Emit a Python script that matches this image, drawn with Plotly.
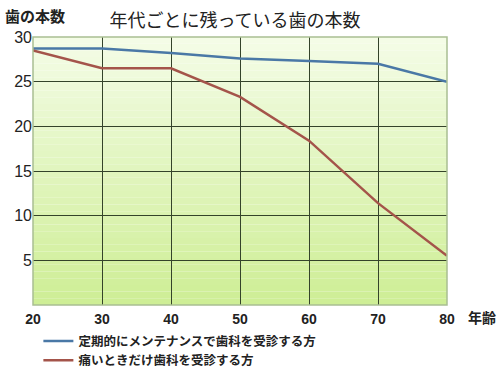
import plotly.graph_objects as go

ages = [20, 30, 40, 50, 60, 70, 80]
regular = [28.7, 28.7, 28.2, 27.6, 27.3, 27.0, 25.0]
pain_only = [28.5, 26.5, 26.5, 23.3, 18.4, 11.4, 5.5]
name_regular = "定期的にメンテナンスで歯科を受診する方"
name_pain = "痛いときだけ歯科を受診する方"
y_ticks = [5, 10, 15, 20, 25, 30]
x_ticks = [20, 30, 40, 50, 60, 70, 80]

fig = go.Figure()
fig.add_trace(go.Scatter(x=ages, y=regular, mode="lines", name=name_regular,
                         line=dict(color="#4a78a6", width=2.5)))
fig.add_trace(go.Scatter(x=ages, y=pain_only, mode="lines", name=name_pain,
                         line=dict(color="#a4544a", width=2.5)))

# gradient background bands
shapes = []
n = 40
top = (244, 252, 230)
bot = (206, 238, 150)
for i in range(n):
    t = i / (n - 1)
    c = tuple(round(top[k] + (bot[k] - top[k]) * t) for k in range(3))
    shapes.append(dict(type="rect", xref="paper", yref="paper", x0=0, x1=1,
                       y0=1 - (i + 1) / n, y1=1 - i / n, layer="below",
                       line=dict(width=0), fillcolor="rgb(%d,%d,%d)" % c))
shapes.append(dict(type="rect", xref="paper", yref="paper", x0=0, x1=1, y0=0, y1=1,
                   line=dict(color="#a9bf93", width=1.5), layer="above"))
fig.update_layout(shapes=shapes)

fig.update_layout(
    width=500, height=375,
    margin=dict(l=33, r=53, t=37, b=70, autoexpand=False),
    paper_bgcolor="white", plot_bgcolor="rgba(0,0,0,0)",
    font=dict(family="Liberation Sans, Arial", color="#222"),
    title=dict(text="年代ごとに残っている歯の本数", x=0.47, xanchor="center", y=0.945,
               yanchor="middle", font=dict(family="Noto Sans CJK JP", size=18, color="#222")),
    showlegend=True,
    legend=dict(x=0.013, y=-0.08, xanchor="left", yanchor="top", bgcolor="rgba(0,0,0,0)",
                font=dict(family="Noto Sans CJK JP", size=12.5, color="#222", weight="bold"),
                itemwidth=30, tracegroupgap=0),
    xaxis=dict(range=[20, 80], tickvals=x_ticks, showgrid=True, gridcolor="#34432a",
               gridwidth=1, zeroline=False, showline=False, ticks="", automargin=False,
               ticklabelstandoff=4,
               tickfont=dict(family="Liberation Sans", size=14, color="#222", weight="bold")),
    yaxis=dict(range=[0, 30], tickvals=y_ticks, showgrid=True, gridcolor="#34432a",
               gridwidth=1, zeroline=False, showline=False, ticks="", automargin=False,
               tickfont=dict(family="Liberation Sans", size=16, color="#222")),
    annotations=[
        dict(text="<b>歯の本数</b>", xref="paper", yref="paper", x=-0.072, y=1.08,
             xanchor="left", yanchor="middle", showarrow=False,
             font=dict(family="Noto Sans CJK JP", size=15, color="#222")),
        dict(text="<b>年齢</b>", xref="paper", yref="paper", x=1.045, y=-0.045,
             xanchor="left", yanchor="middle", showarrow=False,
             font=dict(family="Noto Sans CJK JP", size=14, color="#222")),
    ],
)

fig.write_html("out.html", config={"displayModeBar": False},
               post_script="document.body.style.margin='0';")
